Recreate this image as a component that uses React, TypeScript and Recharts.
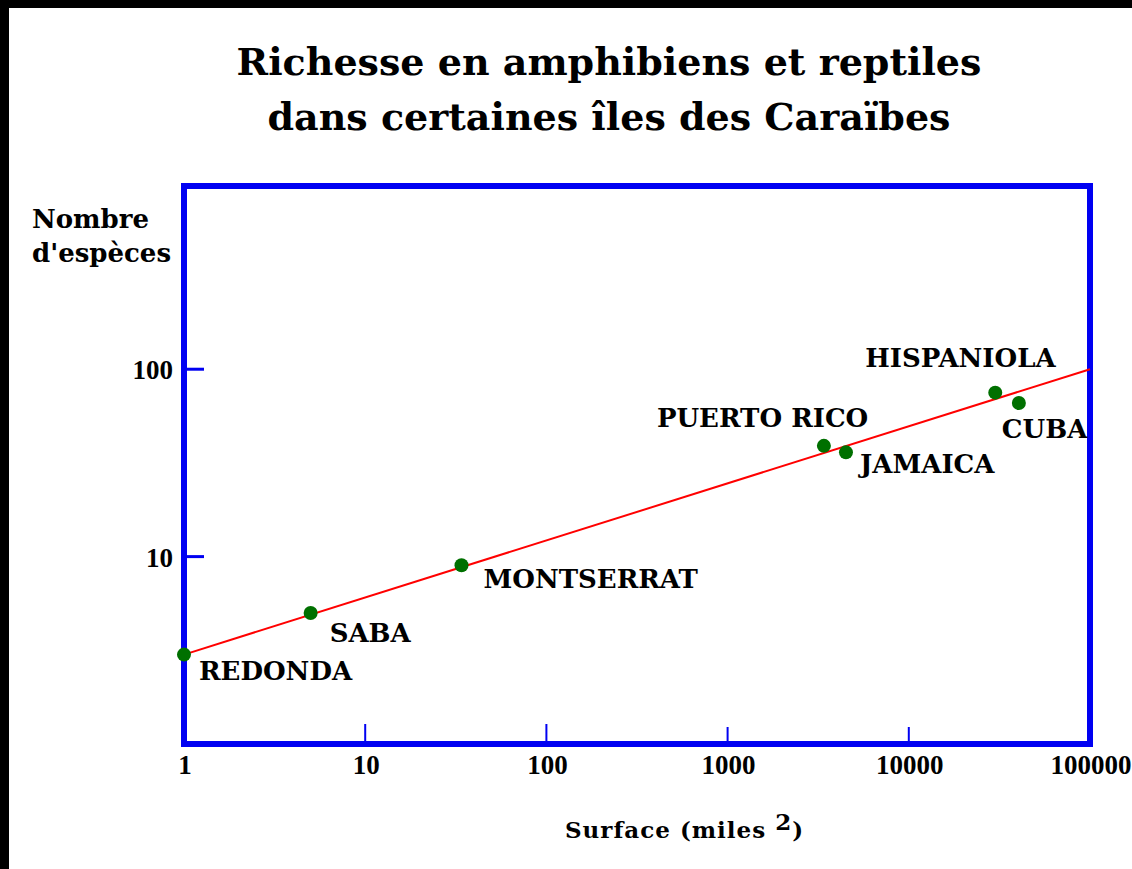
import React from 'react';
import { ScatterChart, Scatter, XAxis, YAxis } from 'recharts';

// ---- data ----
const islands = ['REDONDA', 'SABA', 'MONTSERRAT', 'PUERTO RICO', 'JAMAICA', 'HISPANIOLA', 'CUBA'];
const areaSqMi = [1, 5, 34, 3400, 4500, 30000, 40500];
const speciesCount = [3, 5, 9, 39, 36, 75, 66];
const fitArea = [1, 100000];
const fitSpecies = [3, 100];
const xTicks = [1, 10, 100, 1000, 10000, 100000];
const yTicks = [10, 100];
const xDomain = [1, 100000];
const yDomain = [1, 950];
const titleLines = ['Richesse en amphibiens et reptiles', 'dans certaines îles des Caraïbes'];
const yTitleLines = ['Nombre', "d'espèces"];
const xTitleMain = 'Surface (miles ';
const xTitleSup = '2';
const xTitleEnd = ')';

const points = islands.map((name, i) => ({ name, x: areaSqMi[i], y: speciesCount[i] }));
const fitPoints = fitArea.map((x, i) => ({ x, y: fitSpecies[i] }));

// ---- styles ----
const BLUE = '#0000f2';
const RED = '#ff0000';
const GREEN = '#007000';
const labelOffsets: Record<string, [number, number]> = {
  REDONDA: [15, 25],
  SABA: [19, 29],
  MONTSERRAT: [22, 23],
  'PUERTO RICO': [-167, -19],
  JAMAICA: [14, 21],
  HISPANIOLA: [-130, -26],
  CUBA: [-17, 35],
};
const labelFont = { fontFamily: '"DejaVu Serif"', fontWeight: 700 as const, fontSize: 26 };
const tickFont = { fontFamily: '"Liberation Serif"', fontWeight: 700 as const, fontSize: 27 };
const boxLine = { stroke: BLUE, strokeWidth: 6, strokeLinecap: 'square' as const };

const XTick = (props: any) => {
  const { x, y, payload } = props;
  const v = payload.value;
  const len = v === 10 || v === 100 ? 20 : 17;
  const showLine = v !== xDomain[0] && v !== xDomain[1];
  return (
    <g>
      {showLine && <line x1={x} x2={x} y1={y} y2={y - len} stroke={BLUE} strokeWidth={2} />}
      <text x={x + 1} y={y + 30} textAnchor="middle" fill="#000" {...tickFont}>
        {v}
      </text>
    </g>
  );
};

const YTick = (props: any) => {
  const { x, y, payload } = props;
  return (
    <g>
      <line x1={x} x2={x + 20} y1={y} y2={y} stroke={BLUE} strokeWidth={3} />
      <text x={x - 11} y={y + 10} textAnchor="end" fill="#000" {...tickFont}>
        {payload.value}
      </text>
    </g>
  );
};

const IslandDot = (props: any) => {
  const { cx, cy } = props;
  const name = props.payload?.name ?? props.name;
  const [dx, dy] = labelOffsets[name] || [10, 20];
  return (
    <g>
      <circle cx={cx} cy={cy} r={7} fill={GREEN} />
      <text x={cx + dx} y={cy + dy} fill="#000" {...labelFont}>
        {name}
      </text>
    </g>
  );
};

const NoDot = () => <g />;

export default function App() {
  return (
    <div style={{ position: 'absolute', left: 0, top: 0, width: 1132, height: 869, background: '#fff', overflow: 'hidden' }}>
      <div style={{ position: 'absolute', left: 0, top: 0, width: 9, height: 869, background: '#000' }} />
      <div style={{ position: 'absolute', left: 0, top: 0, width: 1132, height: 8, background: '#000' }} />
      <div style={{ position: 'absolute', left: 0, top: 0 }}>
        <ScatterChart width={1132} height={869} margin={{ top: 184, right: 40, left: 124, bottom: 85 }}>
          <XAxis
            type="number"
            dataKey="x"
            scale="log"
            domain={xDomain}
            ticks={xTicks}
            interval={0}
            axisLine={boxLine}
            tickLine={false}
            tickSize={0}
            tickMargin={0}
            tick={XTick}
            height={40}
          />
          <XAxis
            xAxisId="top"
            orientation="top"
            type="number"
            dataKey="x"
            scale="log"
            domain={xDomain}
            axisLine={boxLine}
            tickLine={false}
            tick={false}
            height={2}
          />
          <YAxis
            type="number"
            dataKey="y"
            scale="log"
            domain={yDomain}
            ticks={yTicks}
            interval={0}
            axisLine={boxLine}
            tickLine={false}
            tickSize={0}
            tickMargin={0}
            tick={YTick}
            width={60}
          />
          <YAxis
            yAxisId="right"
            orientation="right"
            type="number"
            dataKey="y"
            scale="log"
            domain={yDomain}
            axisLine={boxLine}
            tickLine={false}
            tick={false}
            width={2}
          />
          <Scatter
            data={fitPoints}
            xAxisId="top"
            yAxisId="right"
            line={{ stroke: RED, strokeWidth: 2 }}
            shape={NoDot}
            isAnimationActive={false}
          />
          <Scatter data={points} shape={IslandDot} isAnimationActive={false} />
        </ScatterChart>
      </div>
      <svg width={1132} height={869} style={{ position: 'absolute', left: 0, top: 0, pointerEvents: 'none' }}>
        {titleLines.map((t, i) => (
          <text key={t} x={609} y={75 + i * 55} textAnchor="middle" fill="#000" fontFamily='"DejaVu Serif"' fontWeight={700} fontSize={38}>
            {t}
          </text>
        ))}
        {yTitleLines.map((t, i) => (
          <text key={t} x={32} y={228 + i * 34} fill="#000" {...labelFont}>
            {t}
          </text>
        ))}
        <text x={565} y={838} fill="#000" fontFamily='"DejaVu Serif"' fontWeight={700} fontSize={23} letterSpacing={1}>
          {xTitleMain}
          <tspan dy={-8}>{xTitleSup}</tspan>
          <tspan dy={8}>{xTitleEnd}</tspan>
        </text>
      </svg>
    </div>
  );
}
